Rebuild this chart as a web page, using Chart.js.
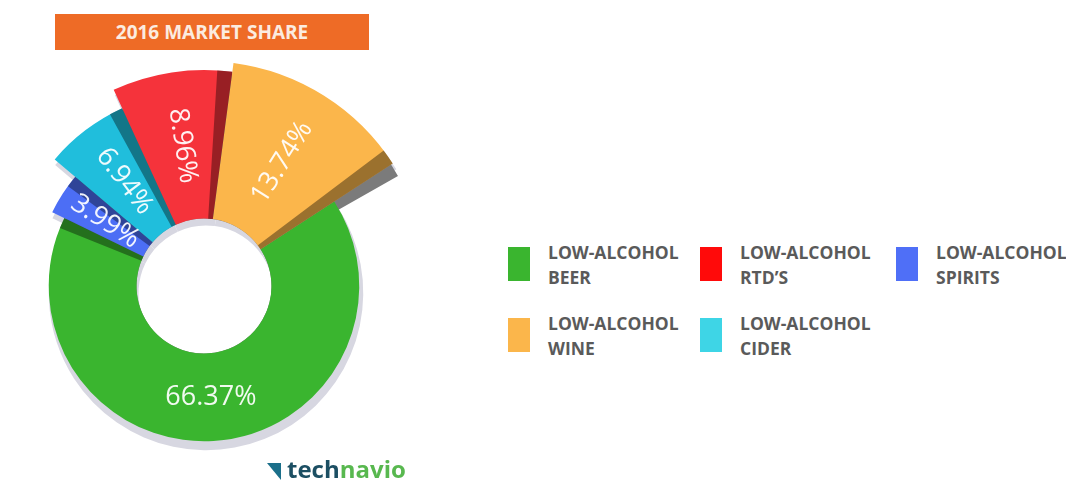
<!DOCTYPE html>
<html>
<head>
<meta charset="utf-8">
<script src="https://cdn.jsdelivr.net/npm/chart.js@4.4.1/dist/chart.umd.min.js"></script>
<style>
  html, body { margin: 0; padding: 0; background: #fff; width: 1066px; height: 482px; overflow: hidden; position: relative; font-family: "Open Sans", sans-serif; }
  #title { position: absolute; left: 55px; top: 14px; width: 314px; height: 36px; background: #ee6b26; color: #fbece0; font-weight: 700; font-size: 19px; line-height: 36px; text-align: center; }
  #chartBox { position: absolute; left: -21px; top: 61px; width: 450px; height: 450px; }
  #legend { position: absolute; left: 508px; top: 240px; display: grid; grid-template-columns: 192px 196px 180px; grid-auto-rows: 71px; }
  .item { display: flex; align-items: flex-start; }
  .sw { width: 22px; height: 34px; margin-top: 7px; flex: none; }
  .txt { margin-left: 18px; font-weight: 700; font-size: 17.5px; line-height: 25px; color: #5a5a5a; white-space: nowrap; }
  #logo { position: absolute; left: 267px; top: 453px; font-weight: 700; font-size: 24px; line-height: 32px; display: flex; align-items: center; }
  #logo .ic { width: 0; height: 0; border-left: 14px solid transparent; border-top: 17px solid #1b6f8a; margin-right: 6px; margin-top: 4px; }
  #logo .a { color: #1c4f63; }
  #logo .b { color: #58b84f; }
</style>
</head>
<body>
<div id="title">2016 MARKET SHARE</div>
<div id="chartBox"><canvas id="shareChart" width="450" height="450"></canvas></div>
<div id="legend"></div>
<div id="logo"><span class="ic"></span><span class="a">tech</span><span class="b">navio</span></div>
<script>
// slices, clockwise
var CATEGORIES = ['BEER', 'SPIRITS', 'CIDER', 'RTD\u2019S', 'WINE'];
var SHARES = [66.37, 3.99, 6.94, 8.96, 13.74];
var COLORS = ['#3ab52f', '#4c6ef5', '#20bedc', '#f5333b', '#fbb64b'];
var LEGEND_COLORS = ['#3ab52f', '#4f6ff7', '#3ed5e6', '#ff0a0a', '#fbb64b'];
var LEGEND_ORDER = [0, 3, 1, 4, 2];

var RADIUS_SCALE = [0.69, 0.75, 0.87, 0.96, 1.0];

function arcPath(ctx, x, y, r0, r1, a0, a1) {
  ctx.beginPath();
  ctx.arc(x, y, r1, a0, a1);
  ctx.arc(x, y, r0, a1, a0, true);
  ctx.closePath();
}

var sliceShape = {
  id: 'sliceShape',
  afterUpdate: function (chart) {
    chart.getDatasetMeta(0).data.forEach(function (arc, i) {
      arc.outerRadius = arc.outerRadius * RADIUS_SCALE[i];
    });
  },
  beforeDatasetsDraw: function (chart) {
    var ctx = chart.ctx;
    var arcs = chart.getDatasetMeta(0).data;
    ctx.save();
    // soft drop shadow
    arcs.forEach(function (a) {
      ctx.fillStyle = '#d7d7e1';
      arcPath(ctx, a.x + 2, a.y + 7, a.innerRadius, a.outerRadius + 2, a.startAngle, a.endAngle);
      ctx.fill();
    });
    // grey edge peeking past each slice
    arcs.forEach(function (a) {
      ctx.fillStyle = '#7b7b7b';
      arcPath(ctx, a.x, a.y, a.innerRadius, a.outerRadius - 2, a.startAngle + 0.06, a.endAngle + 0.06);
      ctx.fill();
    });
    ctx.restore();
  },
  afterDatasetsDraw: function (chart) {
    var ctx = chart.ctx;
    var arcs = chart.getDatasetMeta(0).data;
    ctx.save();
    arcs.forEach(function (a) {
      ctx.fillStyle = 'rgba(0,0,0,0.38)';
      arcPath(ctx, a.x, a.y, a.innerRadius, a.outerRadius, a.endAngle - 0.07, a.endAngle);
      ctx.fill();
    });
    ctx.font = '400 27px "Open Sans"';
    ctx.textAlign = 'center';
    ctx.textBaseline = 'middle';
    ctx.fillStyle = 'rgba(255,255,255,0.93)';
    arcs.forEach(function (a, i) {
      var mid = (a.startAngle + a.endAngle) / 2;
      var r = (a.innerRadius + a.outerRadius) / 2;
      var rot = mid;
      var deg = ((mid * 180 / Math.PI) % 360 + 360) % 360;
      if (deg > 90 && deg < 270) rot = mid - Math.PI;
      if (a.endAngle - a.startAngle > Math.PI) rot = 0;
      ctx.save();
      ctx.translate(a.x + Math.cos(mid) * r, a.y + Math.sin(mid) * r);
      ctx.rotate(rot);
      ctx.fillText(SHARES[i].toFixed(2) + '%', 0, 0);
      ctx.restore();
    });
    ctx.restore();
  }
};

new Chart(document.getElementById('shareChart'), {
  type: 'doughnut',
  data: {
    labels: CATEGORIES.map(function (c) { return 'LOW-ALCOHOL ' + c; }),
    datasets: [{
      data: SHARES,
      backgroundColor: COLORS,
      borderWidth: 0,
    }],
  },
  options: {
    responsive: false,
    animation: false,
    events: [],
    rotation: 57,
    cutout: '30%',
    layout: { padding: 0 },
    plugins: { legend: { display: false }, tooltip: { enabled: false } },
  },
  plugins: [sliceShape],
});

var legend = document.getElementById('legend');
LEGEND_ORDER.forEach(function (i) {
  var item = document.createElement('div');
  item.className = 'item';
  item.innerHTML = '<div class="sw" style="background:' + LEGEND_COLORS[i] + '"></div>' +
    '<div class="txt">LOW-ALCOHOL<br>' + CATEGORIES[i] + '</div>';
  legend.appendChild(item);
});
</script>
</body>
</html>
